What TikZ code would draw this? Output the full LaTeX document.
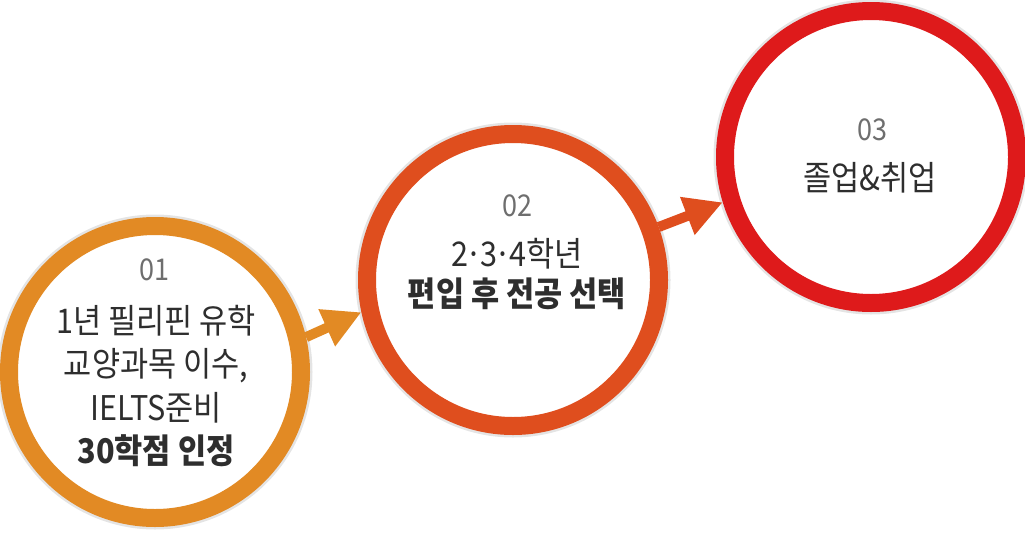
\documentclass[tikz,border=0pt]{standalone}
\usepackage{fontspec}
\setmainfont{Noto Sans CJK KR}[FakeStretch=0.9]
\usetikzlibrary{arrows.meta}
\definecolor{ringA}{HTML}{E28A24}
\definecolor{ringB}{HTML}{DF4E1E}
\definecolor{ringC}{HTML}{DE1A1B}
\definecolor{numgray}{HTML}{6E6E6E}
\definecolor{txtdark}{HTML}{2E2E2E}
\newcommand\middot{\hbox to 0.36em{\hss·\hss}}
\tikzset{
  ring/.style={circle, draw=#1, line width=18pt, minimum size=292pt, inner sep=0pt, fill=white},
  halo/.style={circle, draw=black!30, draw opacity=0.35, line width=23pt, minimum size=292pt, inner sep=0pt},
  numtxt/.style={text=numgray, font=\fontsize{30}{32}\selectfont, inner sep=0pt},
  bodytxt/.style={text=txtdark, align=center, inner sep=0pt},
  flow/.style={draw=#1, line width=10pt, -{Triangle[length=38pt,width=38pt]}, shorten >=0pt}
}
\begin{document}
\begin{tikzpicture}[x=1pt,y=-1pt]
\useasboundingbox (0,0) rectangle (1025,533);
% halos
\node[halo] at (155,372) {};
\node[halo] at (513,280) {};
\node[halo] at (871,157) {};
% rings
\node[ring=ringA] (c1) at (155,372) {};
\node[ring=ringB] (c2) at (513,280) {};
\node[ring=ringC] (c3) at (871,157) {};
% arrows
\draw[flow=ringA] (c1.13) -- (c2.192);
\draw[flow=ringB] (c2.20) -- (c3.197);
% texts
\node[numtxt] (n1) at (154,270) {01};
\node[bodytxt, font=\fontsize{34}{43.5}\selectfont] (t1) at (156,386) {1년 필리핀 유학\\교양과목 이수,\\IELTS준비\\\textbf{30학점 인정}};
\node[numtxt] (n2) at (517,206) {02};
\node[bodytxt, font=\fontsize{34}{40}\selectfont] (t2) at (517,274) {2\middot 3\middot 4학년\\\textbf{편입 후 전공 선택}};
\node[numtxt] (n3) at (872,130) {03};
\node[bodytxt, font=\fontsize{34}{36}\selectfont] (t3) at (870,178) {졸업\&취업};
\end{tikzpicture}
\end{document}
